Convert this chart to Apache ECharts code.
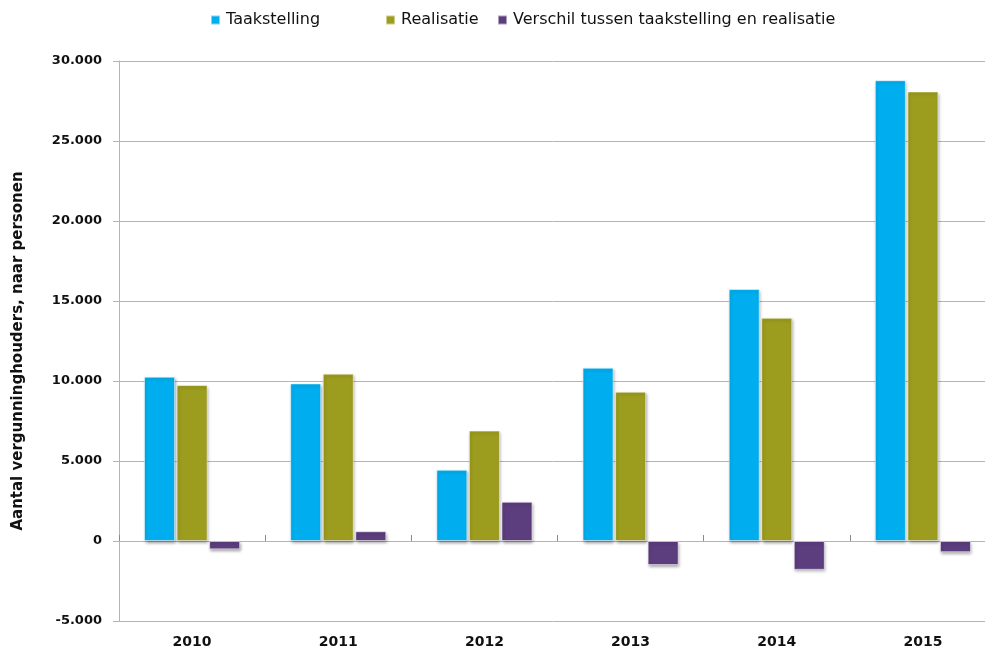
<!DOCTYPE html>
<html>
<head>
<meta charset="utf-8">
<script src="https://cdn.jsdelivr.net/npm/echarts@6/dist/echarts.min.js"></script>
<style>
  html, body { margin: 0; padding: 0; background: #ffffff; }
  #chart { width: 985px; height: 656px; }
</style>
</head>
<body>
<div id="chart"></div>
<script>
// Jaren op de x-as
const years = ['2010', '2011', '2012', '2013', '2014', '2015'];

// Aantal vergunninghouders (personen)
const taakstelling = [10270, 9850, 4450, 10830, 15750, 28800];
const realisatie   = [9750, 10460, 6900, 9330, 13950, 28100];
const verschil     = [-520, 610, 2450, -1500, -1800, -700];

const seriesNames = [
  'Taakstelling',
  'Realisatie',
  'Verschil tussen taakstelling en realisatie'
];
const seriesColors = ['#00aeef', '#9c9c1e', '#5c3d7e'];

// y-as: -5.000 t/m 30.000 in stappen van 5.000
const yMin = -5000;
const yMax = 30000;
const yStep = 5000;

// Getallen met punt als duizendtalscheiding
function formatNL(v) {
  const s = String(Math.abs(v)).replace(/\B(?=(\d{3})+(?!\d))/g, '.');
  return (v < 0 ? '-' : '') + s;
}

const font = 'DejaVu Sans';
const gridColor = '#b4b4b4';

const barStyle = (color) => ({
  color: color,
  borderColor: 'rgba(255,255,255,0.5)',
  borderWidth: 1,
  shadowColor: 'rgba(0,0,0,0.35)',
  shadowBlur: 3,
  shadowOffsetX: 1,
  shadowOffsetY: 2
});

// Eén legenda per reeks, zodat elke sleutel zijn eigen plek krijgt
const legendLefts = [205, 380, 492];
const legends = seriesNames.map((name, i) => ({
  top: 7,
  left: legendLefts[i],
  itemWidth: 9,
  itemHeight: 9,
  icon: 'rect',
  textStyle: { fontFamily: font, fontSize: 16, color: '#111111', padding: [0, 0, 0, 1] },
  data: [name]
}));

const chart = echarts.init(document.getElementById('chart'), null, { renderer: 'canvas' });

chart.setOption({
  animation: false,
  backgroundColor: '#ffffff',
  legend: legends,
  grid: {
    left: 119,
    right: -11,
    top: 61,
    bottom: 35,
    containLabel: false,
    outerBoundsMode: 'none'
  },
  xAxis: {
    type: 'category',
    data: years,
    axisLine: { onZero: true, lineStyle: { color: gridColor, width: 1 } },
    axisTick: { show: true, inside: true, length: 6, lineStyle: { color: '#8a8a8a' } },
    axisLabel: {
      margin: 14,
      fontFamily: font,
      fontWeight: 'bold',
      fontSize: 14,
      color: '#111111'
    },
    splitLine: { show: false }
  },
  yAxis: {
    type: 'value',
    min: yMin,
    max: yMax,
    interval: yStep,
    name: 'Aantal vergunninghouders, naar personen',
    nameLocation: 'middle',
    nameGap: 93,
    nameTextStyle: {
      fontFamily: font,
      fontWeight: 'bold',
      fontSize: 15,
      color: '#111111',
      padding: [0, 20, 0, 0]
    },
    axisLine: { show: true, lineStyle: { color: gridColor, width: 1 } },
    axisTick: { show: true, length: 6, lineStyle: { color: gridColor } },
    axisLabel: {
      margin: 17,
      formatter: formatNL,
      fontFamily: font,
      fontWeight: 'bold',
      fontSize: 13,
      color: '#111111'
    },
    splitLine: { show: true, lineStyle: { color: gridColor, width: 1 } }
  },
  series: [
    {
      name: seriesNames[0],
      type: 'bar',
      data: taakstelling,
      barWidth: 31,
      barGap: '5%',
      itemStyle: barStyle(seriesColors[0])
    },
    {
      name: seriesNames[1],
      type: 'bar',
      data: realisatie,
      barWidth: 31,
      barGap: '5%',
      itemStyle: barStyle(seriesColors[1])
    },
    {
      name: seriesNames[2],
      type: 'bar',
      data: verschil,
      barWidth: 31,
      barGap: '5%',
      itemStyle: barStyle(seriesColors[2])
    }
  ]
});
</script>
</body>
</html>
